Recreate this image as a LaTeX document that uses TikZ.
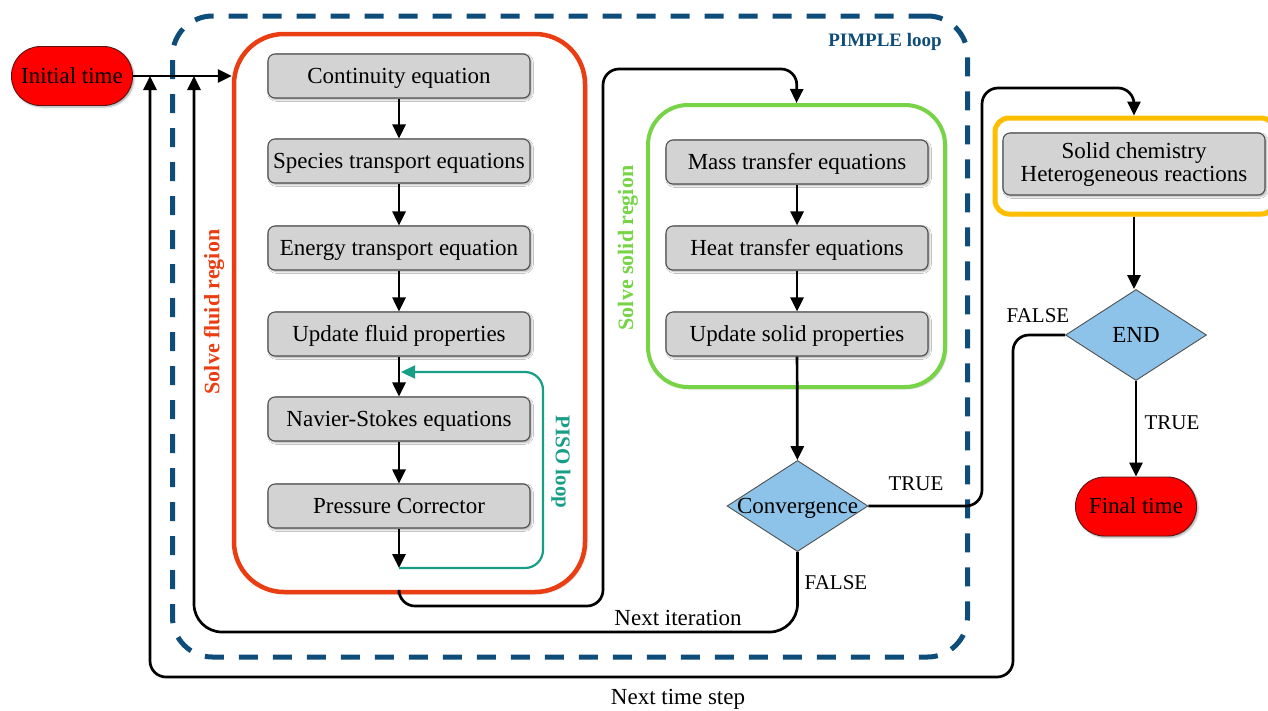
\documentclass[tikz,border=0pt]{standalone}
\usepackage{fontspec}
\setmainfont{Liberation Serif}
\usetikzlibrary{arrows.meta,shapes.geometric,shadows.blur}

\definecolor{boxgray}{RGB}{211,211,211}
\definecolor{edgegray}{RGB}{80,80,80}
\definecolor{fluidred}{RGB}{234,62,18}
\definecolor{solidgreen}{RGB}{118,212,70}
\definecolor{chemorange}{RGB}{255,190,0}
\definecolor{pisoteal}{RGB}{22,158,135}
\definecolor{pimpleblue}{RGB}{14,76,122}
\definecolor{decblue}{RGB}{141,195,232}
\definecolor{termred}{RGB}{255,0,0}
\definecolor{termedge}{RGB}{90,20,20}

\begin{document}
\begin{tikzpicture}[x=1pt,y=-1pt,
  font=\fontsize{23}{26}\selectfont,
  softshadow/.style={blur shadow={shadow xshift=1.5pt,shadow yshift=-1.5pt,shadow blur steps=4,shadow opacity=35}},
  eqbox/.style={draw=edgegray,fill=boxgray,line width=1.1pt,rounded corners=7pt,
    minimum width=262pt,minimum height=44pt,inner sep=0pt,text height=17pt,text depth=3pt,softshadow},
  term/.style={draw=termedge,fill=termred,line width=0.9pt,rounded corners=29pt,
    minimum width=121pt,minimum height=59pt,inner sep=0pt,text height=17pt,text depth=3pt,softshadow},
  decision/.style={diamond,draw=edgegray,fill=decblue,line width=0.9pt,inner sep=0pt,
    minimum width=141pt,minimum height=91pt,text height=17pt,text depth=3pt},
  regionbox/.style={line width=#1,fill=white,inner sep=0pt,softshadow},
  tipstyle/.style={-{Triangle[length=14pt,width=13pt]}},
  conn/.style={line width=2.7pt,tipstyle},
  wire/.style={line width=2.7pt,rounded corners=16pt,tipstyle},
  pisoline/.style={draw=pisoteal,line width=2.2pt,rounded corners=18pt,tipstyle},
  sidelabel/.style={font=\fontsize{22}{25}\selectfont\bfseries},
  flaglabel/.style={font=\fontsize{21}{24}\selectfont}
]
\useasboundingbox (0,0) rectangle (1268,710);

% outer PIMPLE loop frame
\node[draw=pimpleblue,line width=5pt,dash pattern=on 19pt off 15pt,rounded corners=40pt,
  minimum width=795pt,minimum height=641pt,inner sep=0pt] (pimple) at (570,336.5) {};
\node[font=\fontsize{19}{22}\selectfont\bfseries,text=pimpleblue] (pimplelbl) at (885,42) {PIMPLE loop};

% fluid region
\node[regionbox=4.5pt,draw=fluidred,rounded corners=50pt,minimum width=351pt,minimum height=558pt]
  (fluid) at (409.5,313) {};
\node[sidelabel,text=fluidred,rotate=90] (fluidlbl) at (214,312) {Solve fluid region};

\node[eqbox] (c1) at (399,76)  {Continuity equation};
\node[eqbox] (c2) at (399,161) {Species transport equations};
\node[eqbox] (c3) at (399,248) {Energy transport equation};
\node[eqbox] (c4) at (399,334) {Update fluid properties};
\node[eqbox] (c5) at (399,419) {Navier-Stokes equations};
\node[eqbox] (c6) at (399,506) {Pressure Corrector};

\coordinate (pisoend) at (399,568);
\coordinate (pisoin) at (401,372);
\node[sidelabel,font=\fontsize{21}{24}\selectfont\bfseries,text=pisoteal,rotate=-90] (pisolbl) at (561,462) {PISO loop};

% solid region
\node[regionbox=4pt,draw=solidgreen,rounded corners=40pt,minimum width=297pt,minimum height=282pt]
  (solid) at (796.5,246) {};
\node[sidelabel,text=solidgreen,rotate=90] (solidlbl) at (628,248) {Solve solid region};

\node[eqbox] (s1) at (797,162) {Mass transfer equations};
\node[eqbox] (s2) at (797,248) {Heat transfer equations};
\node[eqbox] (s3) at (797,334) {Update solid properties};

\node[decision] (conv) at (797.5,506) {\makebox[0pt]{Convergence}};

% solid chemistry block
\node[regionbox=5pt,draw=chemorange,rounded corners=14pt,minimum width=280pt,minimum height=96pt]
  (chemregion) at (1135,166) {};
\node[draw=edgegray,fill=boxgray,line width=1.1pt,rounded corners=7pt,minimum width=262pt,
  minimum height=62pt,inner sep=0pt,softshadow,align=center] (chem) at (1134,164)
  {Solid chemistry\\[-3pt]Heterogeneous reactions};

\node[decision] (enddec) at (1136,335) {\makebox[0pt]{END}};

% terminals
\node[term] (init) at (72,76) {Initial time};
\node[term] (final) at (1136,506.5) {Final time};

% main flow
\draw[conn] (init.east) -- (init.east -| fluid.west);
\draw[conn] (c1) -- (c2);
\draw[conn] (c2) -- (c3);
\draw[conn] (c3) -- (c4);
\draw[conn] (c4) -- (c5);
\draw[conn] (c5) -- (c6);
\draw[conn] (c6) -- (pisoend);
\draw[pisoline] (pisoend) -- (543,568) -- (543,372) -- (pisoin);

\draw[wire] (c6 |- fluid.south) -- (399,606) -- (603,606)
  -- (603,69) -- (797,69) -- (solid.north);
\draw[conn] (s1) -- (s2);
\draw[conn] (s2) -- (s3);
\draw[conn] (s3) -- (conv);

\draw[wire] (conv.east) -- (982,506) -- (982,88)
  -- (1134,88) -- (chemregion.north -| chem);
\draw[wire,rounded corners=28pt] (conv.south) -- (797.5,632)
  -- (194,632) -- (194,76);
\draw[conn] (chemregion.south -| chem) -- (enddec.north -| chem);
\draw[conn] (enddec) -- (final);
\draw[wire] (enddec.west) -- (1013,335) -- (1013,677)
  -- (150,677) -- (150,76);

% branch and loop labels
\node[flaglabel] (truec) at (916,484) {TRUE};
\node[flaglabel] (falsec) at (836,583) {FALSE};
\node[flaglabel] (falsee) at (1038,316) {FALSE};
\node[flaglabel] (truee) at (1172,423) {TRUE};
\node (nextit) at (678,618) {Next iteration};
\node (nextts) at (678,699) {Next time step};
\end{tikzpicture}
\end{document}
